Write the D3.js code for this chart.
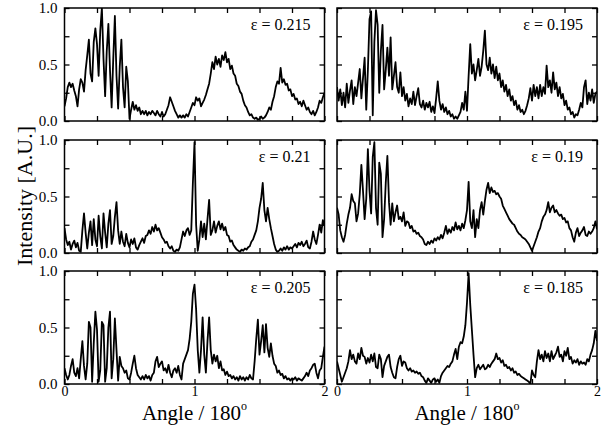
<!DOCTYPE html>
<html lang="en">
  <head>
    <meta charset="utf-8">
    <title>Intensity vs angle</title>
    <script src="https://d3js.org/d3.v7.min.js"></script>
    <style>
      body { margin: 0; background: white; }
    </style>
  </head>
  <body>
    <script type="text/javascript">

      var w = 610;
      var h = 430;
      var serif = "'Liberation Serif', 'Times New Roman', Times, serif";

      // angle grid (units of 180 deg), shared by every panel
      var angles = d3.range(0, 2.0001, 0.0125);

      var epsLabels = ["0.215", "0.195", "0.21", "0.19", "0.205", "0.185"];

      var int215 = [0.13,0.20,0.30,0.34,0.30,0.33,0.27,0.22,0.13,0.28,0.37,0.34,0.26,0.45,0.58,0.72,0.42,0.35,0.70,0.82,
        0.68,0.40,0.80,1.00,0.55,0.22,0.62,0.86,0.45,0.12,0.55,0.93,0.40,0.11,0.48,0.72,0.30,0.12,0.48,0.35,
        0.02,0.10,0.17,0.10,0.14,0.09,0.12,0.06,0.09,0.06,0.09,0.05,0.08,0.06,0.09,0.07,0.05,0.09,0.06,0.04,
        0.08,0.04,0.06,0.10,0.14,0.21,0.17,0.13,0.09,0.06,0.03,0.05,0.03,0.05,0.03,0.06,0.04,0.08,0.12,0.16,
        0.14,0.21,0.18,0.20,0.13,0.16,0.19,0.23,0.28,0.33,0.42,0.52,0.46,0.57,0.50,0.55,0.48,0.58,0.54,0.61,
        0.52,0.55,0.46,0.49,0.42,0.40,0.33,0.31,0.26,0.24,0.18,0.14,0.12,0.08,0.05,0.06,0.03,0.02,0.03,0.01,
        0.02,0.04,0.02,0.03,0.05,0.08,0.12,0.10,0.17,0.22,0.30,0.35,0.33,0.47,0.34,0.37,0.32,0.33,0.27,0.28,
        0.22,0.24,0.19,0.20,0.15,0.17,0.13,0.18,0.14,0.10,0.12,0.08,0.06,0.09,0.05,0.08,0.12,0.18,0.16,0.21,0.25];

      var int195 = [0.30,0.18,0.28,0.14,0.25,0.12,0.33,0.16,0.27,0.36,0.15,0.30,0.22,0.34,0.46,0.20,0.38,0.56,0.10,0.45,
        0.90,0.97,0.05,0.70,0.98,0.85,0.25,0.62,0.85,0.28,0.45,0.65,0.40,0.74,0.28,0.40,0.52,0.30,0.25,0.43,
        0.22,0.30,0.18,0.24,0.13,0.20,0.15,0.26,0.14,0.22,0.29,0.15,0.12,0.18,0.10,0.16,0.12,0.17,0.08,0.13,
        0.07,0.20,0.35,0.18,0.10,0.15,0.08,0.12,0.06,0.09,0.04,0.06,0.02,0.04,0.02,0.05,0.08,0.16,0.10,0.26,
        0.09,0.40,0.68,0.42,0.50,0.36,0.45,0.55,0.40,0.48,0.62,0.80,0.50,0.45,0.56,0.42,0.50,0.38,0.48,0.36,
        0.42,0.30,0.36,0.26,0.32,0.22,0.28,0.18,0.22,0.14,0.18,0.10,0.14,0.08,0.10,0.06,0.09,0.14,0.20,0.29,
        0.18,0.32,0.22,0.30,0.20,0.32,0.22,0.30,0.24,0.49,0.30,0.36,0.25,0.43,0.28,0.34,0.22,0.30,0.20,0.24,
        0.14,0.18,0.10,0.12,0.06,0.08,0.03,0.06,0.05,0.10,0.16,0.12,0.30,0.36,0.15,0.25,0.18,0.28,0.16,0.24,0.26];

      var int210 = [0.22,0.12,0.07,0.10,0.03,0.08,0.11,0.05,0.09,0.02,0.01,0.20,0.35,0.18,0.04,0.18,0.28,0.07,0.30,0.12,
        0.06,0.33,0.15,0.04,0.35,0.18,0.05,0.26,0.38,0.08,0.15,0.32,0.45,0.20,0.08,0.19,0.10,0.06,0.17,0.09,
        0.05,0.12,0.08,0.13,0.05,0.03,0.07,0.10,0.13,0.09,0.15,0.16,0.20,0.17,0.23,0.19,0.25,0.20,0.22,0.18,
        0.14,0.12,0.09,0.10,0.06,0.04,0.06,0.02,0.01,0.03,0.02,0.05,0.12,0.19,0.15,0.20,0.22,0.16,0.20,0.62,
        0.98,0.25,0.02,0.12,0.28,0.14,0.26,0.12,0.30,0.47,0.16,0.20,0.28,0.18,0.24,0.28,0.21,0.26,0.20,0.23,
        0.16,0.15,0.10,0.11,0.07,0.05,0.03,0.02,0.01,0.03,0.02,0.04,0.03,0.05,0.06,0.10,0.12,0.16,0.20,0.28,
        0.40,0.48,0.62,0.38,0.28,0.40,0.30,0.22,0.15,0.08,0.03,0.01,0.02,0.04,0.02,0.05,0.03,0.06,0.03,0.05,
        0.04,0.06,0.08,0.05,0.09,0.07,0.10,0.06,0.08,0.11,0.05,0.04,0.10,0.19,0.12,0.08,0.16,0.25,0.18,0.29,0.24];

      var int190 = [0.40,0.34,0.20,0.14,0.10,0.16,0.26,0.34,0.40,0.52,0.46,0.44,0.28,0.35,0.52,0.78,0.55,0.30,0.48,0.92,
        0.55,0.35,0.85,0.98,0.40,0.25,0.80,0.70,0.14,0.30,0.62,0.86,0.45,0.25,0.44,0.28,0.36,0.42,0.30,0.32,
        0.28,0.36,0.24,0.28,0.27,0.22,0.24,0.19,0.20,0.17,0.18,0.15,0.14,0.12,0.08,0.07,0.10,0.08,0.11,0.09,
        0.13,0.11,0.14,0.12,0.16,0.13,0.18,0.24,0.17,0.21,0.18,0.23,0.20,0.27,0.21,0.24,0.20,0.26,0.22,0.29,
        0.38,0.63,0.28,0.22,0.38,0.14,0.30,0.22,0.38,0.45,0.34,0.46,0.56,0.62,0.53,0.58,0.54,0.55,0.52,0.53,
        0.50,0.48,0.42,0.39,0.36,0.33,0.30,0.28,0.26,0.25,0.22,0.19,0.17,0.16,0.14,0.13,0.12,0.10,0.08,0.05,
        0.02,0.06,0.10,0.14,0.19,0.22,0.28,0.32,0.34,0.38,0.45,0.36,0.40,0.42,0.36,0.38,0.35,0.33,0.34,0.30,
        0.31,0.27,0.28,0.22,0.20,0.14,0.10,0.18,0.22,0.15,0.18,0.20,0.23,0.16,0.15,0.19,0.17,0.19,0.22,0.28,0.21];

      var int205 = [0.14,0.08,0.04,0.08,0.16,0.22,0.10,0.07,0.14,0.05,0.22,0.38,0.16,0.04,0.18,0.55,0.50,0.02,0.36,0.64,
        0.48,0.02,0.12,0.55,0.52,0.02,0.14,0.50,0.64,0.05,0.22,0.58,0.30,0.03,0.24,0.16,0.14,0.10,0.12,0.05,
        0.04,0.10,0.18,0.25,0.14,0.08,0.06,0.04,0.07,0.04,0.08,0.05,0.07,0.03,0.08,0.10,0.20,0.24,0.15,0.18,
        0.20,0.12,0.14,0.10,0.17,0.10,0.06,0.12,0.14,0.10,0.16,0.08,0.04,0.18,0.22,0.26,0.30,0.40,0.55,0.80,
        0.88,0.66,0.30,0.10,0.30,0.59,0.26,0.10,0.38,0.59,0.30,0.18,0.26,0.20,0.25,0.14,0.20,0.12,0.13,0.08,
        0.11,0.07,0.08,0.05,0.07,0.04,0.06,0.03,0.07,0.04,0.06,0.03,0.06,0.04,0.08,0.05,0.04,0.20,0.40,0.57,
        0.26,0.38,0.52,0.28,0.53,0.32,0.24,0.36,0.25,0.18,0.16,0.10,0.12,0.08,0.09,0.05,0.07,0.04,0.05,0.03,
        0.05,0.04,0.06,0.03,0.05,0.04,0.03,0.05,0.07,0.10,0.07,0.12,0.14,0.17,0.18,0.10,0.05,0.12,0.14,0.24,0.33];

      var int185 = [0.20,0.14,0.08,0.02,0.06,0.10,0.14,0.20,0.30,0.22,0.26,0.20,0.18,0.27,0.22,0.32,0.25,0.24,0.18,0.23,
        0.19,0.26,0.20,0.27,0.15,0.14,0.26,0.22,0.06,0.16,0.20,0.24,0.26,0.15,0.10,0.06,0.05,0.15,0.22,0.25,
        0.16,0.20,0.19,0.14,0.12,0.14,0.11,0.12,0.10,0.11,0.09,0.10,0.07,0.06,0.03,0.01,0.05,0.03,0.01,0.04,
        0.05,0.02,0.04,0.01,0.07,0.10,0.12,0.14,0.16,0.15,0.18,0.20,0.26,0.31,0.22,0.33,0.37,0.36,0.42,0.52,
        0.72,0.98,0.70,0.48,0.26,0.06,0.14,0.17,0.13,0.15,0.17,0.13,0.14,0.17,0.15,0.18,0.20,0.22,0.27,0.22,
        0.23,0.19,0.21,0.16,0.17,0.14,0.15,0.12,0.14,0.10,0.11,0.08,0.09,0.07,0.06,0.05,0.04,0.03,0.02,0.00,
        0.12,0.08,0.06,0.20,0.30,0.22,0.26,0.20,0.29,0.23,0.27,0.20,0.29,0.22,0.25,0.28,0.33,0.24,0.26,0.20,
        0.29,0.25,0.32,0.22,0.24,0.18,0.21,0.19,0.22,0.17,0.20,0.18,0.19,0.17,0.22,0.20,0.26,0.30,0.36,0.47,0.38];

      var panelSeries = [int215, int195, int210, int190, int205, int185];

      var colX = [64.5, 337];
      var rowY = [8, 140, 271];
      var pw = 260;
      var ph = 113;

      var svg = d3.select("body")
          .append("svg")
          .attr("width", w)
          .attr("height", h)
          .style("font-family", serif);

      svg.append("rect")
          .attr("width", w)
          .attr("height", h)
          .attr("fill", "white");

      var xScale = d3.scaleLinear().domain([0, 2]).range([0, pw]);
      var yScale = d3.scaleLinear().domain([0, 1]).range([ph, 0]);

      var line = d3.line()
          .x(function(d, i) { return xScale(angles[i]) })
          .y(function(d) { return yScale(d) });

      var xTicks = d3.range(0, 2.001, 0.25);
      var yTicks = d3.range(0, 1.001, 0.25);

      svg.append("defs").append("clipPath")
          .attr("id", "clip")
          .append("rect")
          .attr("width", pw)
          .attr("height", ph);

      panelSeries.forEach(function(series, k) {
        var col = k % 2, row = Math.floor(k / 2);
        var g = svg.append("g")
            .attr("transform", `translate(${colX[col]}, ${rowY[row]})`);

        g.append("path")
            .datum(series)
            .attr("clip-path", "url(#clip)")
            .attr("fill", "none")
            .attr("stroke", "black")
            .attr("stroke-width", 1.8)
            .attr("stroke-linejoin", "round")
            .attr("d", line);

        // inward ticks on all four sides
        g.append("g").attr("transform", `translate(0, ${ph})`)
            .call(d3.axisBottom(xScale).tickValues(xTicks).tickSize(-5).tickFormat(""));
        g.append("g")
            .call(d3.axisTop(xScale).tickValues(xTicks).tickSize(-5).tickFormat(""));
        g.append("g")
            .call(d3.axisLeft(yScale).tickValues(yTicks).tickSize(-5).tickFormat(""));
        g.append("g").attr("transform", `translate(${pw}, 0)`)
            .call(d3.axisRight(yScale).tickValues(yTicks).tickSize(-5).tickFormat(""));

        g.selectAll(".domain").remove();
        g.selectAll(".tick line").attr("stroke", "black").attr("stroke-width", 1.3);

        if (col == 0) {
          var yl = g.append("g")
              .call(d3.axisLeft(yScale).tickValues([0, 0.5, 1]).tickSize(0).tickPadding(7).tickFormat(d3.format(".1f")));
          yl.select(".domain").remove();
          yl.attr("font-family", serif).attr("font-size", 15);
        }
        if (row == 2) {
          var xl = g.append("g").attr("transform", `translate(0, ${ph})`)
              .call(d3.axisBottom(xScale).tickValues([0, 1, 2]).tickSize(0).tickPadding(2).tickFormat(d3.format("d")));
          xl.select(".domain").remove();
          xl.attr("font-family", serif).attr("font-size", 14);

          var title = g.append("text")
              .attr("x", pw / 2)
              .attr("y", ph + 36)
              .attr("text-anchor", "middle")
              .attr("font-family", serif)
              .attr("font-size", 21);
          title.append("tspan").text("Angle / 180");
          title.append("tspan").attr("dy", -10).attr("font-size", 12).text("o");
        }

        g.append("rect")
            .attr("width", pw)
            .attr("height", ph)
            .attr("fill", "none")
            .attr("stroke", "black")
            .attr("stroke-width", 1.5);

        g.append("text")
            .attr("x", pw - 14)
            .attr("y", 22)
            .attr("text-anchor", "end")
            .attr("font-family", serif)
            .attr("font-size", 16)
            .text("\u03b5 = " + epsLabels[k]);
      });

      svg.append("text")
          .attr("transform", "translate(32, 196) rotate(-90)")
          .attr("text-anchor", "middle")
          .attr("font-family", serif)
          .attr("font-size", 22)
          .text("Intensity [A.U.]");

    </script>
  </body>
</html>
